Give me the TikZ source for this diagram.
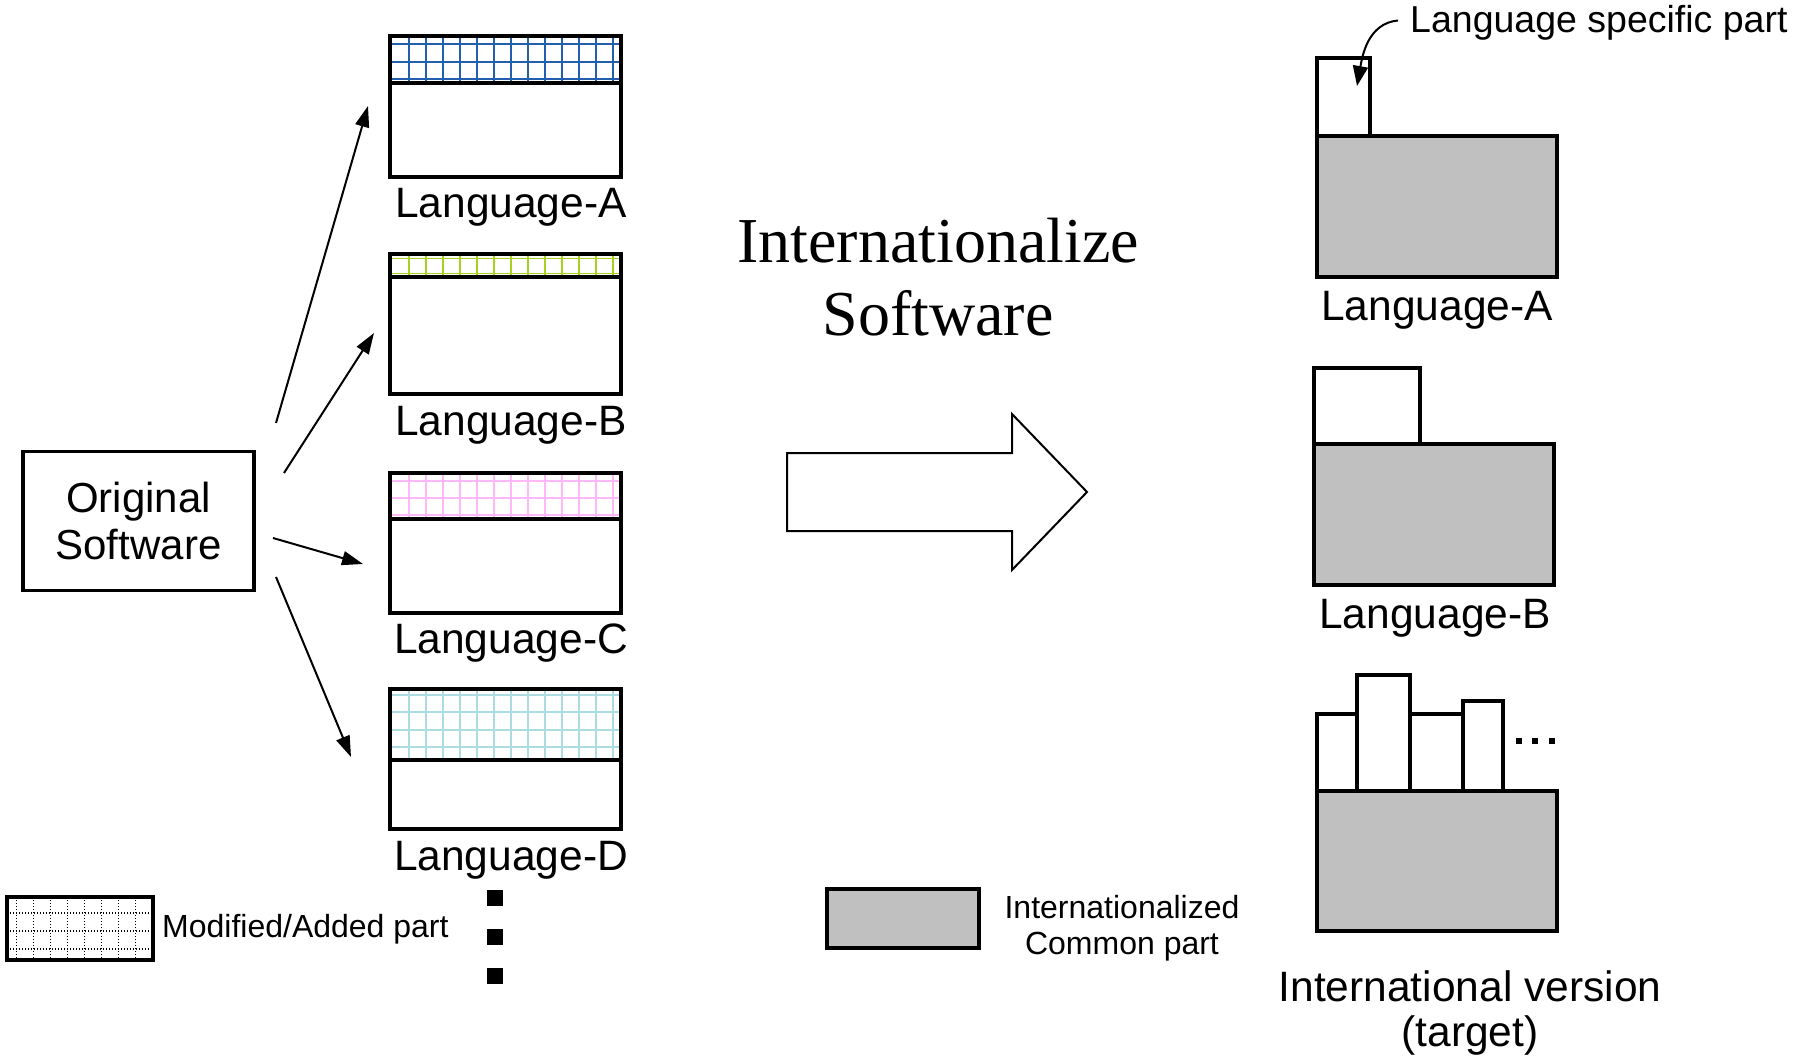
\documentclass[tikz,border=0pt]{standalone}
\usepackage{fontspec}
\usepackage{graphicx}
\setmainfont{Liberation Sans}
\newfontfamily\titlefont{Liberation Serif}
\usetikzlibrary{arrows.meta}
\definecolor{hatchA}{RGB}{35,95,175}
\definecolor{hatchB}{RGB}{165,210,30}
\definecolor{hatchC}{RGB}{255,185,250}
\definecolor{hatchD}{RGB}{170,220,226}
\definecolor{commongray}{RGB}{192,192,192}
\newcommand\hatchpart[4]{% color, top, bottom, list of horizontal y
  \begin{scope}
    \clip (390,#2) rectangle (621,#3);
    \foreach \xx in {409,426,...,613} \draw[hatchline,#1] (\xx,#2) -- (\xx,#3);
    \foreach \yy in {#4} \draw[hatchline,#1] (390,\yy) -- (621,\yy);
  \end{scope}}
\begin{document}
\begin{tikzpicture}[x=1pt,y=-1pt,
  thickbox/.style={draw=black,line width=3.5pt},
  lbl/.style={font=\fontsize{42.5}{47}\selectfont,inner sep=0pt,anchor=base},
  smalllbl/.style={font=\fontsize{32}{36}\selectfont,inner sep=0pt,anchor=base},
  conn/.style={line width=2pt,-{Triangle[length=21pt,width=14pt]}},
  hatchline/.style={line width=1.6pt},
  commonpart/.style={draw=black,line width=3.5pt,fill=commongray},
  specpart/.style={draw=black,line width=3.5pt,fill=white},
]
\useasboundingbox (0,0) rectangle (1803,1056);

% ---------- Original software ----------
\node[thickbox, line width=3.2pt, minimum width=231pt, minimum height=139pt,
      inner sep=0pt, align=center, font=\fontsize{42}{47}\selectfont]
      (orig) at (138.5,521) {Original\\Software};

% ---------- Language boxes (left) ----------
\hatchpart{hatchA}{36}{83}{44,62,79}
\draw[thickbox] (390,36) rectangle (621,177);
\draw[thickbox] (390,83) -- (621,83);
\node[lbl] (la) at (511,218) {Language-A};

\hatchpart{hatchB}{254}{277}{258.5,273.5}
\draw[thickbox] (390,254) rectangle (621,394);
\draw[thickbox] (390,277) -- (621,277);
\node[lbl] (lb) at (511,435) {Language-B};

\hatchpart{hatchC}{473}{519}{481,498,515}
\draw[thickbox] (390,473) rectangle (621,613);
\draw[thickbox] (390,519) -- (621,519);
\node[lbl] (lc) at (511,653) {Language-C};

\hatchpart{hatchD}{689}{760}{695,712,730,747}
\draw[thickbox] (390,689) rectangle (621,829);
\draw[thickbox] (390,760) -- (621,760);
\node[lbl] (ld) at (511,870) {Language-D};

% vertical dots
\fill (487,890) rectangle (503,906);
\fill (487,929) rectangle (503,945);
\fill (487,968) rectangle (503,984);

% ---------- connectors ----------
\coordinate (a1s) at (276,423); \coordinate (a1e) at (368,106);
\coordinate (a2s) at (284,473); \coordinate (a2e) at (374,333);
\coordinate (a3s) at (273,538); \coordinate (a3e) at (363,564);
\coordinate (a4s) at (276,577); \coordinate (a4e) at (351,757);
\draw[conn] (a1s) -- (a1e);
\draw[conn] (a2s) -- (a2e);
\draw[conn] (a3s) -- (a3e);
\draw[conn] (a4s) -- (a4e);

% ---------- legend: modified/added ----------
\begin{scope}
  \clip (7,897) rectangle (153,960);
  \foreach \xx in {16.7,33.7,...,140} \draw[line width=1.3pt,dash pattern=on 1.4pt off 1.6pt] (\xx,897) -- (\xx,960);
  \foreach \yy in {913,931,949} \draw[line width=1.3pt,dash pattern=on 1.4pt off 1.6pt] (7,\yy) -- (153,\yy);
\end{scope}
\draw[thickbox] (7,897) rectangle (153,960);
\node[smalllbl, anchor=base west] (modlbl) at (162,937) {Modified/Added part};

% ---------- title ----------
\node[font=\titlefont\fontsize{64}{72}\selectfont, inner sep=0pt, anchor=base] (t1) at (938,263) {Internationalize};
\node[font=\titlefont\fontsize{64}{72}\selectfont, inner sep=0pt, anchor=base] (t2) at (938,335) {Software};

% ---------- big hollow arrow ----------
\draw[line width=2pt, fill=white, line join=miter]
  (787,453) -- (1012,453) -- (1012,414) -- (1087,492) -- (1012,570) -- (1012,531) -- (787,531) -- cycle;

% ---------- legend: common part ----------
\draw[commonpart] (827,889) rectangle (979,948);
\node[smalllbl] (icp1) at (1122,918) {Internationalized};
\node[smalllbl] (icp2) at (1122,954) {Common part};

% ---------- right: Language-A ----------
\draw[commonpart] (1317,136) rectangle (1557,277);
\draw[specpart] (1317,58) rectangle (1370,136);
\node[lbl] (ra) at (1437,321) {Language-A};
\node[font=\fontsize{37.5}{40}\selectfont, inner sep=0pt, anchor=base west] (lsp) at (1410,33) {Language specific part};
\coordinate (cstart) at (1398,20.5);
\coordinate (ctip) at (1357,86);
\draw[line width=2pt,-{Triangle[length=20pt,width=15pt]}] (cstart) to[out=185,in=80] (ctip);

% ---------- right: Language-B ----------
\draw[commonpart] (1314,444) rectangle (1554,585);
\draw[specpart] (1314,368) rectangle (1420,444);
\node[lbl] (rb) at (1435,628) {Language-B};

% ---------- right: International version ----------
\draw[commonpart] (1317,791) rectangle (1557,931);
\draw[specpart] (1317,714) rectangle (1357,791);
\draw[specpart] (1357,675) rectangle (1410,791);
\draw[specpart] (1410,714) rectangle (1463,791);
\draw[specpart] (1463,701) rectangle (1503,791);
\fill (1515.5,737.5) rectangle (1521.5,743.5);
\fill (1532,737.5) rectangle (1538,743.5);
\fill (1548.5,737.5) rectangle (1554.5,743.5);
\node[font=\fontsize{42.5}{46}\selectfont, inner sep=0pt, anchor=base] (iv1) at (1470,1001) {International version};
\node[font=\fontsize{42.5}{46}\selectfont, inner sep=0pt, anchor=base] (iv2) at (1470,1046) {(target)};
\end{tikzpicture}
\end{document}
